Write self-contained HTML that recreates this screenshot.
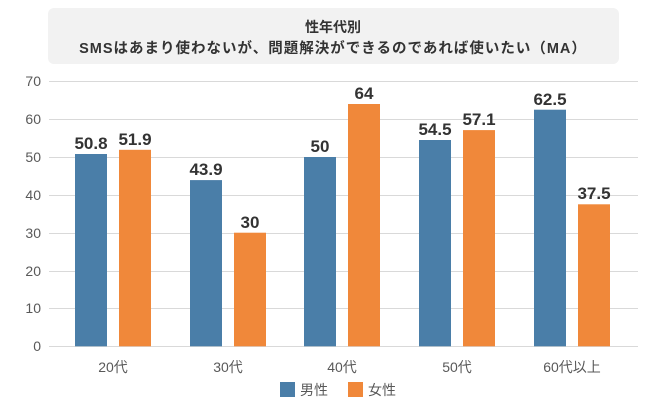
<!DOCTYPE html>
<html><head><meta charset="utf-8"><style>
body{margin:0;width:670px;height:400px;background:#fff;overflow:hidden;font-family:"Liberation Sans","Noto Sans CJK JP",sans-serif;}
</style></head><body>
<svg width="670" height="400" xmlns="http://www.w3.org/2000/svg" font-family="Liberation Sans, Noto Sans CJK JP, sans-serif">
<rect x="48" y="8" width="571" height="56" rx="6" fill="#f2f2f2"/>
<text x="333" y="32" text-anchor="middle" font-size="14" font-weight="bold" fill="#333">性年代別</text>
<text x="333" y="53" text-anchor="middle" font-size="14.5" font-weight="bold" fill="#333" letter-spacing="1">SMSはあまり使わないが、問題解決ができるのであれば使いたい（MA）</text>
<g stroke="#d9d9d9" stroke-width="1">
<line x1="49" x2="638" y1="81.5" y2="81.5"/><line x1="49" x2="638" y1="119.5" y2="119.5"/>
<line x1="49" x2="638" y1="157.5" y2="157.5"/><line x1="49" x2="638" y1="195.5" y2="195.5"/>
<line x1="49" x2="638" y1="233.5" y2="233.5"/><line x1="49" x2="638" y1="271.5" y2="271.5"/>
<line x1="49" x2="638" y1="308.5" y2="308.5"/><line x1="49" x2="638" y1="346.5" y2="346.5"/>
</g>
<g font-size="14" fill="#595959" text-anchor="end">
<text x="41" y="86">70</text><text x="41" y="124">60</text><text x="41" y="162">50</text><text x="41" y="200">40</text>
<text x="41" y="238">30</text><text x="41" y="276">20</text><text x="41" y="313">10</text><text x="41" y="351">0</text>
</g>
<g fill="#4a7ea8">
<rect x="75" y="154.0" width="32" height="192.3"/>
<rect x="190" y="180.1" width="32" height="166.2"/>
<rect x="304" y="157.0" width="32" height="189.3"/>
<rect x="419" y="140.0" width="32" height="206.3"/>
<rect x="534" y="109.7" width="32" height="236.6"/>
</g>
<g fill="#f0883a">
<rect x="119" y="149.8" width="32" height="196.5"/>
<rect x="234" y="232.7" width="32" height="113.6"/>
<rect x="348" y="104.0" width="32" height="242.3"/>
<rect x="463" y="130.1" width="32" height="216.2"/>
<rect x="578" y="204.3" width="32" height="142.0"/>
</g>
<g font-size="17" font-weight="bold" fill="#333" text-anchor="middle">
<text x="91" y="149">50.8</text><text x="135" y="145">51.9</text>
<text x="206" y="175">43.9</text><text x="250" y="228">30</text>
<text x="320" y="152">50</text><text x="364" y="99">64</text>
<text x="435" y="135">54.5</text><text x="479" y="125">57.1</text>
<text x="550" y="105">62.5</text><text x="594" y="199">37.5</text>
</g>
<g font-size="14" fill="#595959" text-anchor="middle">
<text x="113" y="372">20代</text><text x="228" y="372">30代</text><text x="342" y="372">40代</text>
<text x="457" y="372">50代</text><text x="572" y="372">60代以上</text>
</g>
<rect x="280" y="382" width="15" height="15" fill="#4a7ea8"/>
<text x="300" y="395" font-size="14" fill="#595959">男性</text>
<rect x="348" y="382" width="15" height="15" fill="#f0883a"/>
<text x="368" y="395" font-size="14" fill="#595959">女性</text>
</svg>
</body></html>
